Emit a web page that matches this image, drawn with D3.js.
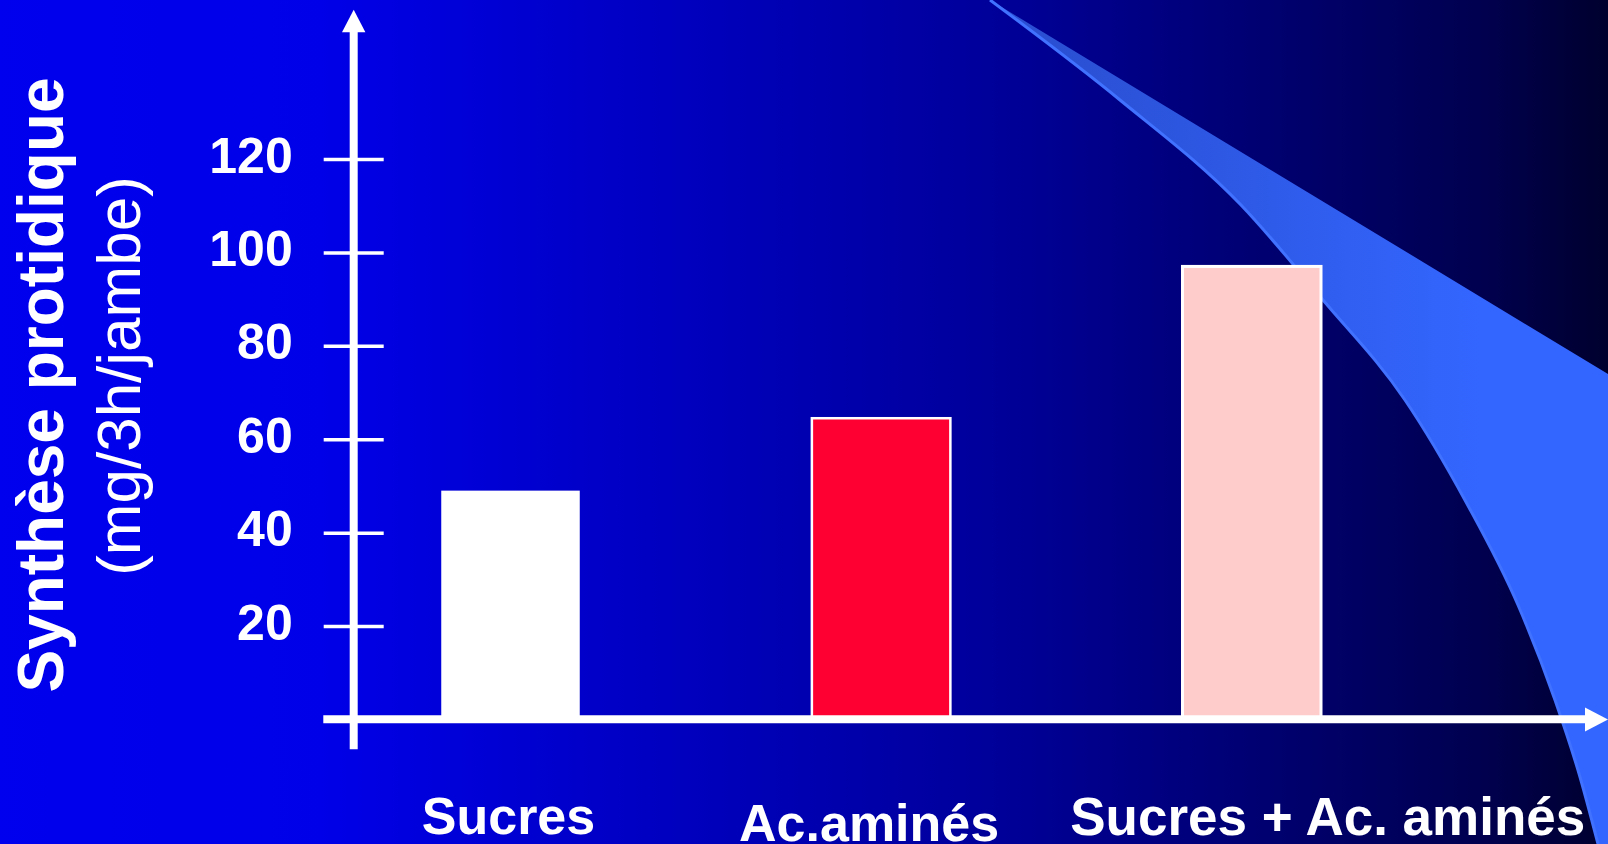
<!DOCTYPE html>
<html>
<head>
<meta charset="utf-8">
<script src="https://cdn.jsdelivr.net/npm/d3@7"></script>
<style>
  html, body { margin: 0; padding: 0; background: #0000ee; overflow: hidden; }
  svg { display: block; }
  text { font-family: "Liberation Sans", Arial, Helvetica, sans-serif; fill: #ffffff; }
</style>
</head>
<body>
<svg id="chart" width="1608" height="844"></svg>
<script>
// ---- data ----
const categories = ["Sucres", "Ac.aminés", "Sucres + Ac. aminés"];
const values = [49, 64.5, 97];
const barColors = ["#ffffff", "#ff0033", "#ffcccc"];
const tickValues = [20, 40, 60, 80, 100, 120];
const yTitle = "Synthèse protidique";
const yUnit = "(mg/3h/jambe)";

// ---- layout ----
const W = 1608, H = 844;
const svg = d3.select("#chart");
const defs = svg.append("defs");

const bg = defs.append("linearGradient").attr("id", "bg").attr("x1", 0).attr("x2", 1).attr("y1", 0).attr("y2", 0);
[[0, "#0000ee"], [0.2, "#0000e8"], [0.6, "#00009e"], [0.92, "#000050"], [1, "#00002e"]]
  .forEach(([o, c]) => bg.append("stop").attr("offset", o).attr("stop-color", c));

const sw = defs.append("linearGradient").attr("id", "sw").attr("gradientUnits", "userSpaceOnUse")
  .attr("x1", 1050).attr("x2", 1480).attr("y1", 0).attr("y2", 0);
sw.append("stop").attr("offset", 0).attr("stop-color", "#2a4fd2");
sw.append("stop").attr("offset", 1).attr("stop-color", "#3366ff");

svg.append("rect").attr("width", W).attr("height", H).attr("fill", "url(#bg)");

// decorative swoosh (background ornament)
const lower = [[990,0],[1120,100],[1241,205],[1323,300],[1405,400],[1466,502],[1518,605],[1555,700],[1580,777],[1598,844]];
const lineGen = d3.line().curve(d3.curveMonotoneX);
svg.append("path")
  .attr("d", lineGen(lower) + "L1608,844L1608,374Z")
  .attr("fill", "url(#sw)");
svg.append("path").attr("d", lineGen(lower)).attr("fill", "none")
  .attr("stroke", "#4072ff").attr("stroke-width", 3);

// scales
const y = d3.scaleLinear().domain([0, 120]).range([719.5, 159]);
const x = d3.scaleBand().domain(categories).range([441.25, 1321]).paddingInner(0.6263).paddingOuter(0);
const axisX = 353.7;

// bars
svg.append("g").selectAll("rect").data(categories).join("rect")
  .attr("x", d => x(d))
  .attr("width", x.bandwidth())
  .attr("y", (d, i) => y(values[i]))
  .attr("height", (d, i) => y(0) - y(values[i]))
  .attr("fill", (d, i) => barColors[i])
  .attr("stroke", (d, i) => i === 0 ? "none" : "#ffffff")
  .attr("stroke-width", (d, i) => i === 2 ? 3 : 2.5);

// y axis with ticks
const yAxis = d3.axisLeft(y).tickValues(tickValues).tickSize(0).tickPadding(0);
const gy = svg.append("g").attr("transform", `translate(${axisX},0)`).call(yAxis);
gy.select(".domain").remove();
gy.selectAll(".tick line").attr("x1", -30).attr("x2", 30)
  .attr("stroke", "#ffffff").attr("stroke-width", 3.5);
gy.selectAll(".tick text")
  .attr("x", -61).attr("dy", "0.32em").attr("y", -3)
  .attr("text-anchor", "end")
  .style("font-family", '"Liberation Sans", Arial, sans-serif')
  .style("font-size", "50px").style("font-weight", "bold").attr("fill", "#ffffff");

// axis lines
svg.append("line").attr("x1", axisX).attr("x2", axisX).attr("y1", 28).attr("y2", 749.3)
  .attr("stroke", "#ffffff").attr("stroke-width", 8);
svg.append("path").attr("d", `M${axisX - 11.7},32.3L${axisX},9.7L${axisX + 11.7},32.3Z`).attr("fill", "#ffffff");
svg.append("line").attr("x1", 323.3).attr("x2", 1588).attr("y1", y(0) - 0.3).attr("y2", y(0) - 0.3)
  .attr("stroke", "#ffffff").attr("stroke-width", 8);
svg.append("path").attr("d", `M1585,${y(0) - 12}L1608,${y(0)}L1585,${y(0) + 12}Z`).attr("fill", "#ffffff");

// category labels
const labelDx = [-2, -12, 76];
const labelY = [834, 841, 835];
const labelSize = [52, 52, 53];
svg.append("g").selectAll("text").data(categories).join("text")
  .attr("x", (d, i) => x(d) + x.bandwidth() / 2 + labelDx[i])
  .attr("y", (d, i) => labelY[i])
  .attr("text-anchor", "middle")
  .style("font-size", (d, i) => labelSize[i] + "px").style("font-weight", "bold")
  .text(d => d);

// y titles
svg.append("text").attr("transform", "translate(63,385) rotate(-90)")
  .attr("text-anchor", "middle").style("font-size", "64px").style("font-weight", "bold")
  .text(yTitle);
svg.append("text").attr("transform", "translate(140,376) rotate(-90)")
  .attr("text-anchor", "middle").style("font-size", "62px").style("font-weight", "normal")
  .text(yUnit);
</script>
</body>
</html>
